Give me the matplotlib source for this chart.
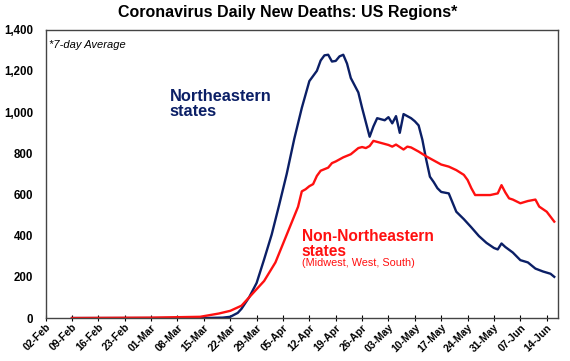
import pandas as pd
import matplotlib.pyplot as plt
import matplotlib.dates as mdates

plt.rcParams["font.family"] = ["Liberation Sans", "DejaVu Sans"]

ne_dates = ["2020-02-09", "2020-03-15", "2020-03-20", "2020-03-22", "2020-03-24", "2020-03-25",
            "2020-03-27", "2020-03-29", "2020-03-31", "2020-04-02", "2020-04-04", "2020-04-06",
            "2020-04-08", "2020-04-10", "2020-04-12", "2020-04-14", "2020-04-15", "2020-04-16",
            "2020-04-17", "2020-04-18", "2020-04-19", "2020-04-20", "2020-04-21", "2020-04-22",
            "2020-04-23", "2020-04-24", "2020-04-25", "2020-04-26", "2020-04-27", "2020-04-28",
            "2020-04-29", "2020-04-30", "2020-05-01", "2020-05-02", "2020-05-03", "2020-05-04",
            "2020-05-05", "2020-05-06", "2020-05-07", "2020-05-08", "2020-05-09", "2020-05-10",
            "2020-05-11", "2020-05-12", "2020-05-13", "2020-05-14", "2020-05-15", "2020-05-16",
            "2020-05-17", "2020-05-19", "2020-05-21", "2020-05-23", "2020-05-25", "2020-05-27",
            "2020-05-29", "2020-05-31", "2020-06-01", "2020-06-02", "2020-06-03", "2020-06-05",
            "2020-06-07", "2020-06-09", "2020-06-11", "2020-06-13", "2020-06-15", "2020-06-16"]
ne_values = [0, 0, 2, 6, 25, 45,
             100, 170, 285, 405, 550, 700,
             870, 1020, 1150, 1200, 1250, 1275,
             1278, 1245, 1248, 1270, 1278, 1235,
             1165, 1130, 1095, 1020, 950, 880,
             930, 970, 965, 960, 975, 945,
             980, 899, 990, 980, 970, 955,
             935, 865, 770, 686, 660, 630,
             612, 605, 516, 480, 440, 398,
             365, 340, 333, 362, 345, 318,
             281, 270, 240, 226, 215, 200]

other_dates = ["2020-02-09", "2020-03-01", "2020-03-14", "2020-03-19", "2020-03-22", "2020-03-25",
               "2020-03-28", "2020-03-31", "2020-04-03", "2020-04-05", "2020-04-07", "2020-04-09",
               "2020-04-10", "2020-04-11", "2020-04-12", "2020-04-13", "2020-04-14", "2020-04-15",
               "2020-04-17", "2020-04-18", "2020-04-19", "2020-04-21", "2020-04-23", "2020-04-25",
               "2020-04-26", "2020-04-27", "2020-04-28", "2020-04-29", "2020-04-30", "2020-05-01",
               "2020-05-03", "2020-05-04", "2020-05-05", "2020-05-07", "2020-05-08", "2020-05-09",
               "2020-05-11", "2020-05-13", "2020-05-15", "2020-05-17", "2020-05-19", "2020-05-21",
               "2020-05-23", "2020-05-24", "2020-05-25", "2020-05-26", "2020-05-28", "2020-05-30",
               "2020-06-01", "2020-06-02", "2020-06-03", "2020-06-04", "2020-06-05", "2020-06-07",
               "2020-06-09", "2020-06-11", "2020-06-12", "2020-06-14", "2020-06-16"]
other_values = [0, 2, 6, 22, 35, 60,
                120, 180, 270, 360, 450, 540,
                615, 625, 640, 650, 690, 715,
                730, 752, 760, 780, 795, 825,
                830, 825, 835, 860, 855, 850,
                840, 832, 842, 818, 832, 828,
                808, 785, 765, 745, 735, 718,
                695, 670, 630, 597, 597, 597,
                605, 645, 610, 581, 575, 557,
                568, 575, 541, 516, 468]

navy = "#0b1f66"
red = "#ff1010"

fig = plt.figure(figsize=(5.7, 3.61), dpi=100)
ax = fig.add_axes([0.08, 0.119, 0.899, 0.799])

ax.plot(pd.to_datetime(ne_dates), ne_values, color=navy, lw=1.7)
ax.plot(pd.to_datetime(other_dates), other_values, color=red, lw=1.7)

ax.set_ylim(0, 1400)
ax.set_xlim(pd.Timestamp("2020-02-02"), pd.Timestamp("2020-06-17"))
ax.set_yticks(range(0, 1401, 200))
ax.set_yticklabels([f"{v:,}" for v in range(0, 1401, 200)], fontsize=8.3, fontweight="bold")
ax.tick_params(axis="y", length=0, pad=9)

ticks = pd.date_range("2020-02-02", "2020-06-14", freq="7D")
ax.set_xticks(ticks)
ax.xaxis.set_major_formatter(mdates.DateFormatter("%d-%b"))
ax.tick_params(axis="x", length=4, direction="inout", labelsize=7.5, pad=1)
for lab in ax.get_xticklabels():
    lab.set_rotation(45)
    lab.set_ha("right")
    lab.set_rotation_mode("anchor")
    lab.set_fontweight("bold")

for s in ax.spines.values():
    s.set_color("#444444")
    s.set_linewidth(1.0)

fig.suptitle("Coronavirus Daily New Deaths: US Regions*", x=0.505, y=0.985,
             fontsize=11.5, fontweight="bold")
ax.text(0.006, 0.965, "*7-day Average", transform=ax.transAxes, fontsize=8,
        style="italic", va="top")
ax.text(pd.Timestamp("2020-03-06"), 1037, "Northeastern\nstates", color=navy,
        fontsize=11.8, fontweight="bold", va="center", linespacing=1.0)
ax.text(pd.Timestamp("2020-04-10"), 361, "Non-Northeastern\nstates", color=red,
        fontsize=11.2, fontweight="bold", va="center", linespacing=1.0)
ax.text(pd.Timestamp("2020-04-10"), 266, "(Midwest, West, South)", color=red,
        fontsize=7.8, va="center")

fig.savefig("out.png", dpi=100)
